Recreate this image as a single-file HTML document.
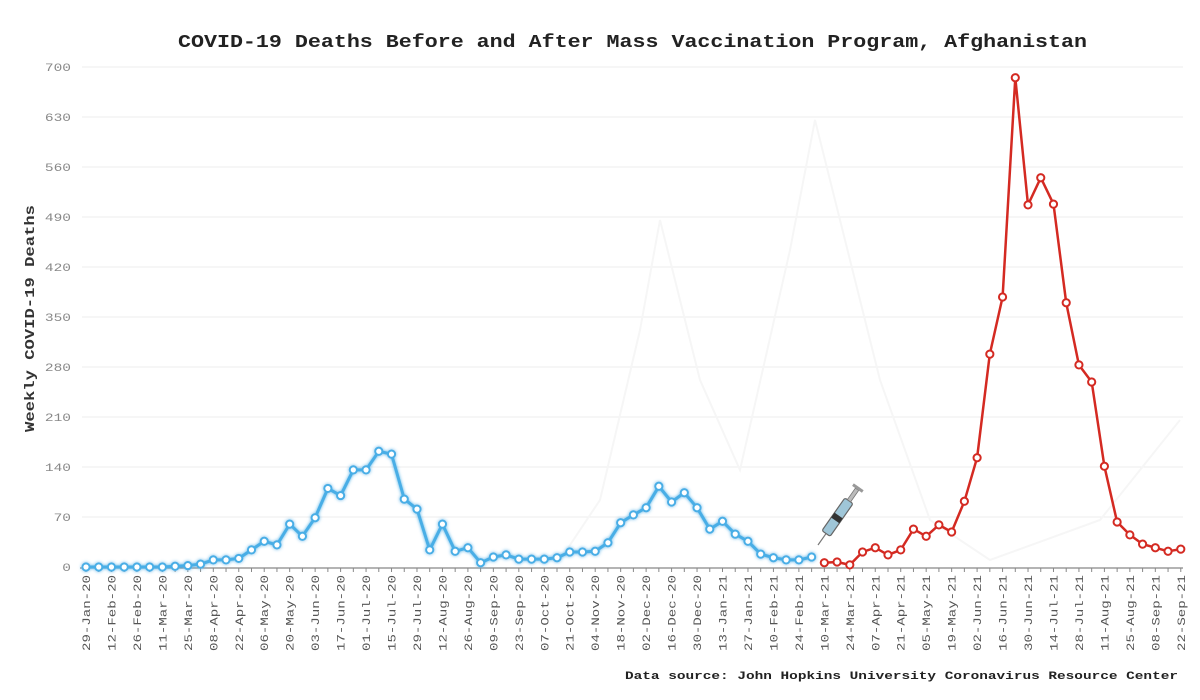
<!DOCTYPE html>
<html><head><meta charset="utf-8"><style>
html,body{margin:0;padding:0;background:#fff;}
svg{display:block;font-family:"Liberation Mono",monospace;}
</style></head><body>
<svg id="c" width="1200" height="700" viewBox="0 0 1200 700" xmlns="http://www.w3.org/2000/svg">
<defs>
<filter id="glow" x="-5%" y="-5%" width="110%" height="110%"><feGaussianBlur stdDeviation="1.5" result="b"/><feMerge><feMergeNode in="b"/><feMergeNode in="SourceGraphic"/></feMerge></filter>
</defs>
<text x="178" y="47" font-size="18" font-weight="bold" fill="#222" textLength="909" lengthAdjust="spacingAndGlyphs">COVID-19 Deaths Before and After Mass Vaccination Program, Afghanistan</text>
<text transform="translate(34,432) rotate(-90)" font-size="14" font-weight="bold" fill="#333" textLength="227" lengthAdjust="spacingAndGlyphs">Weekly COVID-19 Deaths</text>
<text x="625" y="679" font-size="11" font-weight="bold" fill="#222" textLength="553" lengthAdjust="spacingAndGlyphs">Data source: John Hopkins University Coronavirus Resource Center</text>
<g id="grid"></g>
<polyline fill="none" stroke="#f6f6f6" stroke-width="2" points="560,560 600,500 640,330 660,220 700,380 740,470 790,250 815,120 850,260 880,380 930,520 990,560 1100,520 1180,420"/>
<g id="series"></g>
<g transform="translate(818,545) rotate(-55)">
<line x1="0" y1="0" x2="14" y2="0" stroke="#777" stroke-width="1.2"/>
<rect x="14" y="-5" width="40" height="10" rx="2" fill="#9fc6d8" stroke="#666" stroke-width="1.2"/>
<rect x="30" y="-5" width="6" height="10" fill="#333"/>
<rect x="54" y="-2" width="14" height="4" fill="#bbb" stroke="#777" stroke-width="0.8"/>
<rect x="68" y="-6" width="3" height="12" fill="#999"/>
</g>
</svg>
<script>
var svg='http://www.w3.org/2000/svg';
function el(t,a,p,txt){var e=document.createElementNS(svg,t);for(var k in a)e.setAttribute(k,a[k]);if(txt!==undefined)e.textContent=txt;p.appendChild(e);return e;}
var g=document.getElementById('grid'),s=document.getElementById('series');
var x0=86,dx=12.73,y0=567,k=500/700;
for(var v=0;v<=700;v+=70){var y=y0-v*k;
 if(v>0)el('line',{x1:82,x2:1183,y1:y,y2:y,stroke:'#ececec','stroke-width':1},g);
 var tl=String(v).length*8.7;
 el('text',{x:71-tl,y:y+4,'font-size':11,fill:'#888',textLength:tl,lengthAdjust:'spacingAndGlyphs'},g,String(v));}
el('line',{x1:80,x2:1183,y1:y0+1,y2:y0+1,stroke:'#888','stroke-width':1.2},g);
var mon=['Jan','Feb','Mar','Apr','May','Jun','Jul','Aug','Sep','Oct','Nov','Dec'];
var d=new Date(Date.UTC(2020,0,29));
for(var i=0;i<=86;i++){var x=x0+dx*i;
 el('line',{x1:x,x2:x,y1:y0+1,y2:y0+5,stroke:'#888','stroke-width':1},g);
 if(i%2==0){var dd=new Date(d.getTime()+i*7*864e5);
  var t=('0'+dd.getUTCDate()).slice(-2)+'-'+mon[dd.getUTCMonth()]+'-'+String(dd.getUTCFullYear()).slice(2);
  el('text',{transform:'translate('+(x+4)+',651) rotate(-90)','font-size':11,fill:'#555',textLength:76,lengthAdjust:'spacingAndGlyphs'},g,t);}}
var blue=[0,0,0,0,0,0,0,1,2,4,10,10,12,24,36,31,60,43,69,110,100,136,136,162,158,95,81,24,60,22,27,
6,14,17,11,11,11,13,21,21,22,34,62,73,83,113,91,104,83,53,64,46,36,18,13,10,10,14];
var red=[6,7,3,21,27,17,24,53,43,59,49,92,153,298,378,685,507,545,508,370,283,259,141,63,45,32,27,22,25];
function draw(arr,off,col,w,glow){var pts=arr.map(function(v,i){return [x0+dx*(i+off),y0-v*k];});
 var gg=el('g',glow?{filter:'url(#glow)'}:{},s);
 el('polyline',{points:pts.map(function(p){return p[0].toFixed(1)+','+p[1].toFixed(1)}).join(' '),fill:'none',stroke:col,'stroke-width':w,'stroke-linejoin':'round'},gg);
 pts.forEach(function(p){el('circle',{cx:p[0],cy:p[1],r:3.6,fill:'#fff',stroke:col,'stroke-width':2},gg);});}
draw(blue,0,'#4aaee6',3,true);
draw(red,58,'#d42a22',2.5,false);
</script>
</body></html>
